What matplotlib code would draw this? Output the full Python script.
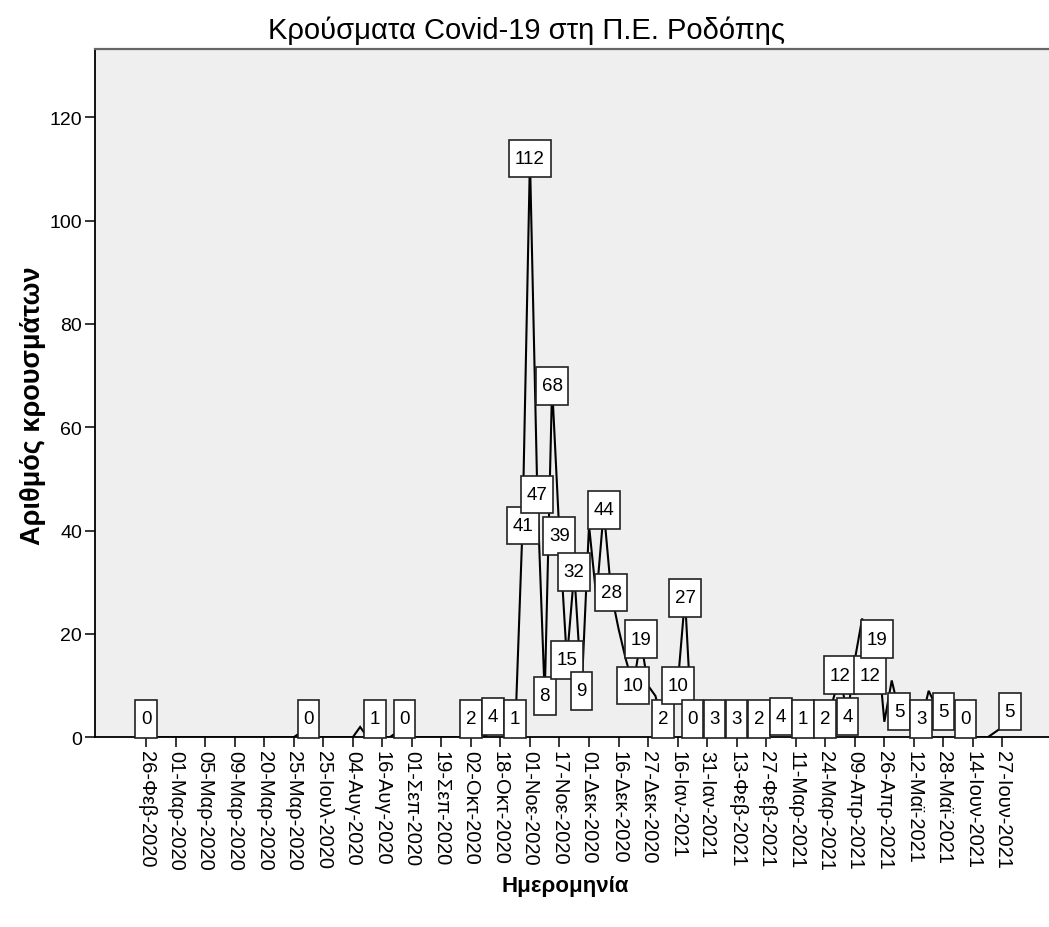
import matplotlib
matplotlib.use("Agg")
import matplotlib.pyplot as plt
from matplotlib.path import Path

plt.rcParams['font.family'] = ['Liberation Sans', 'DejaVu Sans']

# ---- data (one value per date category, in order) ----
cases = [
    0, 0, 0, 0, 0, 0, 0, 0, 0, 0,      # 0-9
    0, 0, 0, 0, 0, 0, 0, 0, 0, 0,      # 10-19
    0, 1, 0, 0, 0, 0, 0, 0, 0, 2,      # 20-29
    0, 1, 0, 0, 1, 0, 0, 0, 0, 0,      # 30-39
    0, 0, 0, 0, 2, 2, 0, 4, 1, 0,      # 40-49
    1, 41, 112, 47, 8, 68, 39, 15, 32, 9,   # 50-59
    41, 27, 44, 28, 21, 15, 10, 19, 10, 8,  # 60-69
    2, 4, 10, 27, 0, 0, 1, 3, 2, 1,    # 70-79
    3, 1, 0, 2, 0, 1, 4, 3, 6, 1,      # 80-89
    3, 0, 2, 7, 12, 4, 15, 23, 12, 19, # 90-99
    3, 11, 5, 6, 6, 3, 9, 6, 5, 4,     # 100-109
    4, 0, 0, 0, 0, 1, 2, 5,            # 110-117
]

# categories whose value label is displayed
labelled = [0, 22, 31, 35, 44, 47, 50, 51, 52, 53, 54, 55, 56, 57, 58, 59,
            62, 63, 66, 67, 70, 72, 73, 74, 77, 80, 83, 86, 89, 92, 94, 95,
            98, 99, 102, 105, 108, 111, 117]

tick_labels = ['26-Φεβ-2020', '01-Μαρ-2020', '05-Μαρ-2020', '09-Μαρ-2020',
               '20-Μαρ-2020', '25-Μαρ-2020', '25-Ιουλ-2020', '04-Αυγ-2020',
               '16-Αυγ-2020', '01-Σεπ-2020', '19-Σεπ-2020', '02-Οκτ-2020',
               '18-Οκτ-2020', '01-Νοε-2020', '17-Νοε-2020', '01-Δεκ-2020',
               '16-Δεκ-2020', '27-Δεκ-2020', '16-Ιαν-2021', '31-Ιαν-2021',
               '13-Φεβ-2021', '27-Φεβ-2021', '11-Μαρ-2021', '24-Μαρ-2021',
               '09-Απρ-2021', '26-Απρ-2021', '12-Μαϊ-2021', '28-Μαϊ-2021',
               '14-Ιουν-2021', '27-Ιουν-2021']
tick_step = 4

title = 'Κρούσματα Covid-19 στη Π.Ε. Ροδόπης'
xlabel = 'Ημερομηνία'
ylabel = 'Αριθμός κρουσμάτων'

# ---- figure ----
W, H = 1049, 928
fig = plt.figure(figsize=(W / 100, H / 100), dpi=100)
ax = fig.add_axes([94.7 / W, (H - 738.3) / H, 1 - 94.7 / W, (738.3 - 50) / H])
ax.set_facecolor('#efefef')

x = list(range(len(cases)))
ax.plot(x, cases, color='black', lw=1.5, zorder=3, solid_joinstyle='miter')

ax.set_xlim(-6.95, 122.3)
ax.set_ylim(0, 133.2)


def spss_box(x0, y0, width, height, mutation_size):
    px = 0.30 * mutation_size
    py = 0.55 * mutation_size
    verts = [(x0 - px, y0 - py), (x0 + width + px, y0 - py),
             (x0 + width + px, y0 + height + py), (x0 - px, y0 + height + py),
             (x0 - px, y0 - py)]
    return Path(verts, closed=True)


min_label_y = 3.6
for i in labelled:
    v = cases[i]
    ax.text(i, max(v, min_label_y), str(v), ha='center', va='center',
            fontsize=13.5, color='black', zorder=5,
            bbox=dict(boxstyle=spss_box, fc='white', ec='#222222', lw=1.2))

ax.set_xticks(range(0, tick_step * len(tick_labels), tick_step))
ax.set_xticklabels(tick_labels, rotation=270, ha='center', va='top',
                   fontsize=14.5)
ax.set_yticks([0, 20, 40, 60, 80, 100, 120])
ax.set_yticklabels(['0', '20', '40', '60', '80', '100', '120'], fontsize=14)
ax.tick_params(axis='both', direction='out', length=7, width=1.1,
               color='black')
ax.tick_params(axis='x', pad=2)
ax.tick_params(axis='y', pad=2)

ax.spines['right'].set_visible(False)
ax.spines['top'].set_color('#666666')
ax.spines['top'].set_linewidth(1.6)
ax.spines['left'].set_linewidth(1.3)
ax.spines['bottom'].set_linewidth(1.3)

fig.text(527 / W, 1 - 31 / H, title, ha='center', va='center', fontsize=21)
fig.text(565 / W, 1 - 887 / H, xlabel, ha='center', va='center',
         fontsize=16, fontweight='bold')
fig.text(33 / W, 1 - 406 / H, ylabel, ha='center', va='center',
         rotation=90, fontsize=19.5, fontweight='bold')

fig.savefig('out.png', dpi=100)
